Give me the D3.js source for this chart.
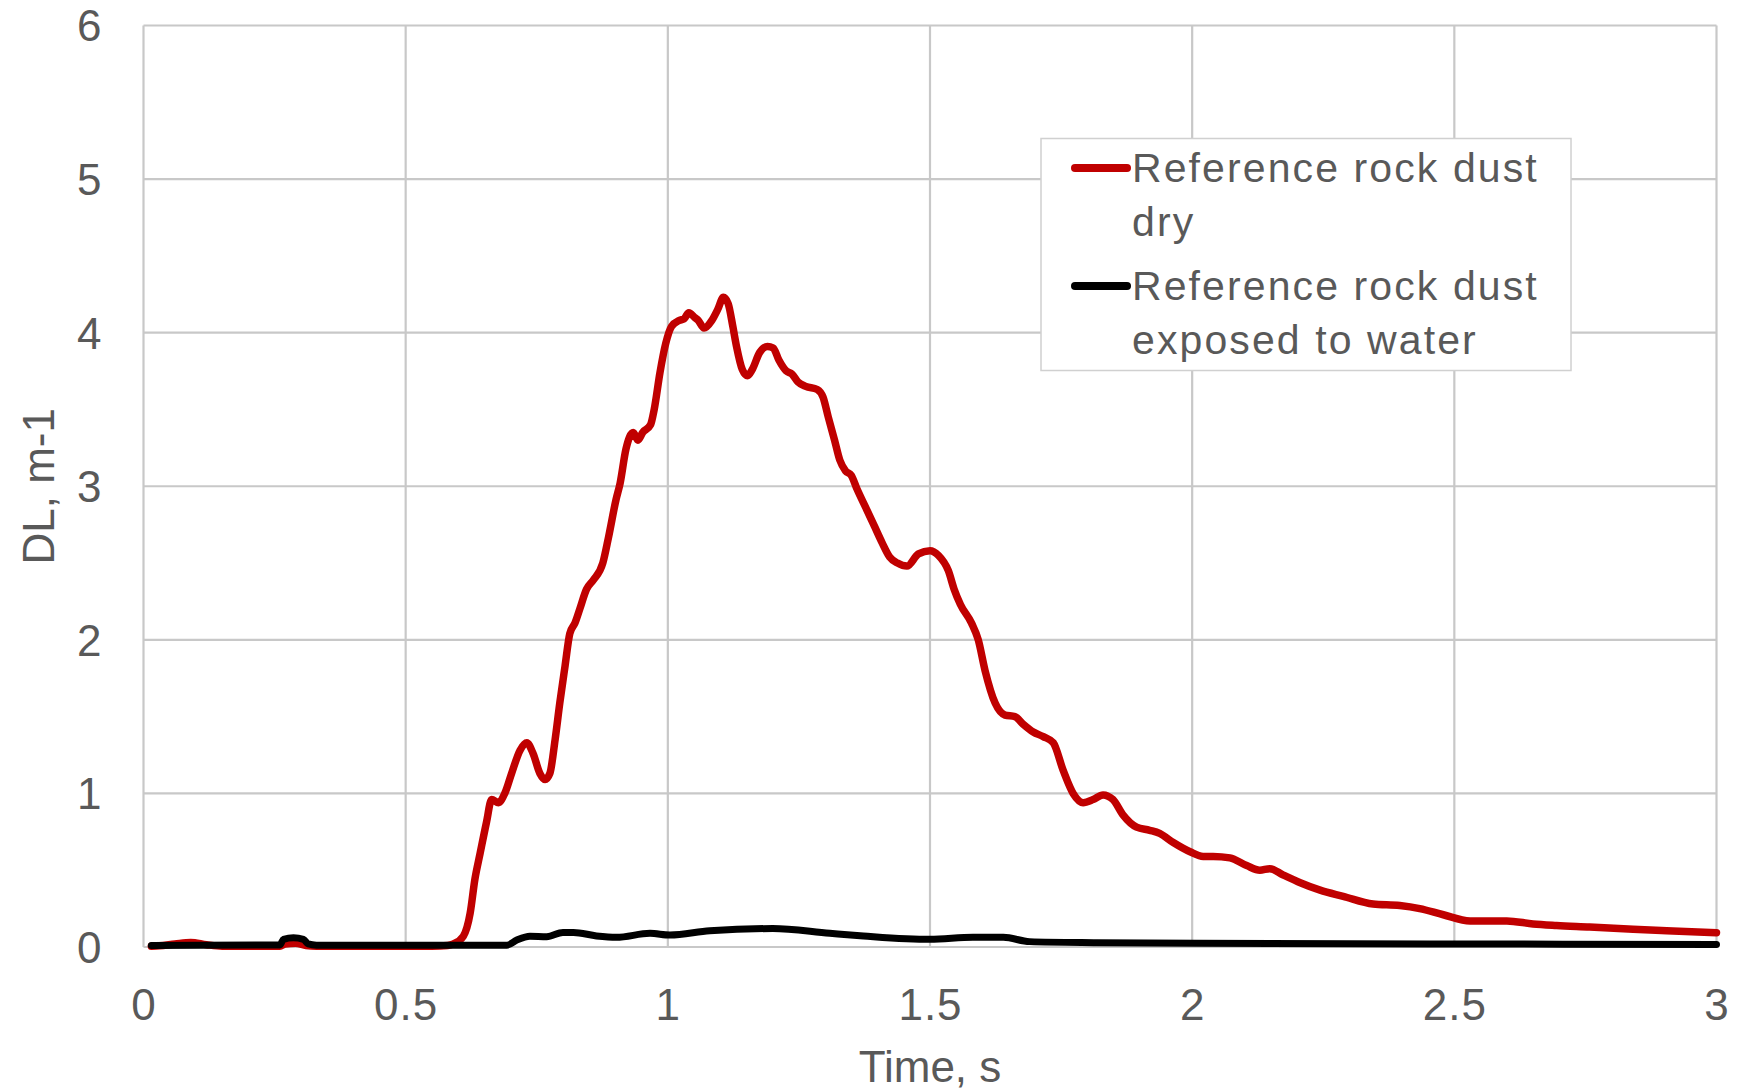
<!DOCTYPE html>
<html>
<head>
<meta charset="utf-8">
<script src="https://cdn.jsdelivr.net/npm/d3@7"></script>
<style>
  html, body { margin: 0; padding: 0; background: #ffffff; }
  svg { display: block; }
  text { font-family: "Liberation Sans", Arial, sans-serif; fill: #595959; }
</style>
</head>
<body>
<svg id="chart" width="1737" height="1090"></svg>
<script>
// ---- data ----
const seriesNames = ["Reference rock dust dry", "Reference rock dust exposed to water"];
const seriesColors = ["#c00000", "#000000"];

const dryTime = [0.015,0.03,0.06,0.09,0.12,0.15,0.26,0.27,0.29,0.31,0.33,0.55,0.58,0.591,0.61,0.623,0.632,0.642,0.654,0.664,0.677,0.689,0.702,0.718,0.731,0.743,0.756,0.766,0.775,0.785,0.794,0.804,0.813,0.823,0.832,0.845,0.858,0.876,0.887,0.901,0.909,0.920,0.934,0.943,0.952,0.967,0.974,0.985,0.996,1.007,1.022,1.031,1.040,1.051,1.058,1.069,1.084,1.095,1.106,1.115,1.124,1.131,1.142,1.152,1.161,1.175,1.190,1.201,1.212,1.226,1.237,1.248,1.263,1.285,1.296,1.306,1.318,1.328,1.339,1.350,1.361,1.379,1.394,1.409,1.423,1.438,1.456,1.478,1.500,1.516,1.535,1.546,1.558,1.579,1.592,1.605,1.624,1.643,1.662,1.678,1.697,1.716,1.735,1.754,1.773,1.792,1.811,1.830,1.849,1.868,1.894,1.919,1.938,1.964,1.996,2.021,2.040,2.072,2.104,2.129,2.148,2.173,2.205,2.244,2.288,2.345,2.396,2.434,2.479,2.53,2.60,2.65,2.695,2.758,2.841,2.905,3.0];
const dryDL = [0.005,0.008,0.02,0.03,0.015,0.005,0.005,0.02,0.025,0.01,0.005,0.005,0.01,0.02,0.07,0.22,0.44,0.61,0.81,0.96,0.94,1.00,1.13,1.28,1.33,1.26,1.13,1.09,1.13,1.35,1.59,1.83,2.04,2.11,2.20,2.33,2.39,2.50,2.67,2.91,3.02,3.24,3.35,3.30,3.35,3.40,3.50,3.74,3.93,4.04,4.08,4.09,4.13,4.10,4.08,4.03,4.08,4.15,4.23,4.19,4.04,3.91,3.76,3.72,3.76,3.87,3.91,3.90,3.82,3.75,3.73,3.68,3.65,3.63,3.58,3.45,3.30,3.17,3.10,3.07,2.98,2.85,2.74,2.63,2.54,2.50,2.48,2.56,2.58,2.55,2.45,2.33,2.23,2.11,2.00,1.80,1.59,1.51,1.50,1.45,1.40,1.37,1.33,1.15,1.00,0.94,0.96,0.99,0.96,0.86,0.78,0.76,0.74,0.68,0.62,0.59,0.59,0.58,0.53,0.50,0.51,0.47,0.42,0.37,0.33,0.28,0.27,0.25,0.21,0.17,0.17,0.15,0.14,0.13,0.115,0.106,0.093];

const wetTime = [0.015,0.26,0.267,0.286,0.305,0.314,0.33,0.693,0.712,0.737,0.769,0.80,0.82,0.864,0.902,0.966,1.004,1.08,1.20,1.309,1.373,1.50,1.582,1.64,1.69,1.818,2.008,2.453,3.0];
const wetDL = [0.01,0.013,0.05,0.06,0.05,0.02,0.012,0.012,0.045,0.07,0.067,0.095,0.095,0.072,0.063,0.089,0.078,0.106,0.12,0.089,0.072,0.05,0.063,0.063,0.035,0.028,0.024,0.02,0.017];

const xTicks = [0, 0.5, 1, 1.5, 2, 2.5, 3];
const yTicks = [0, 1, 2, 3, 4, 5, 6];
const xTitle = "Time, s";
const yTitle = "DL, m-1";
const legendLines = [["Reference rock dust", "dry"], ["Reference rock dust", "exposed to water"]];

// ---- layout ----
const svg = d3.select("#chart");
const plot = { left: 143.5, right: 1716.5, top: 25.5, bottom: 947 };

const x = d3.scaleLinear().domain([0, 3]).range([plot.left, plot.right]);
const y = d3.scaleLinear().domain([0, 6]).range([plot.bottom, plot.top]);

// gridlines
const grid = svg.append("g");
grid.selectAll("line.h").data(yTicks).join("line")
  .attr("x1", plot.left).attr("x2", plot.right)
  .attr("y1", d => y(d)).attr("y2", d => y(d))
  .attr("stroke", "#c8c8c8").attr("stroke-width", 2.2);
grid.selectAll("line.v").data(xTicks).join("line")
  .attr("x1", d => x(d)).attr("x2", d => x(d))
  .attr("y1", plot.top).attr("y2", plot.bottom)
  .attr("stroke", "#c8c8c8").attr("stroke-width", 2.2);

// axes (labels only, via d3 axis)
const xAxis = d3.axisBottom(x).tickValues(xTicks).tickSize(0).tickPadding(0).tickFormat(d3.format("~g"));
const gx = svg.append("g").attr("transform", `translate(0,${plot.bottom})`).call(xAxis);
gx.select(".domain").remove();
gx.selectAll("text").attr("y", 58).attr("dy", "0.35em")
  .style("font-size", "44px").style("letter-spacing", "1px").attr("fill", "#595959");

const yAxis = d3.axisLeft(y).tickValues(yTicks).tickSize(0).tickPadding(0).tickFormat(d3.format("~g"));
const gy = svg.append("g").attr("transform", `translate(${plot.left},0)`).call(yAxis);
gy.select(".domain").remove();
gy.selectAll("text").attr("x", -42).attr("dy", "0.35em")
  .style("font-size", "44px").attr("fill", "#595959");

// axis titles
svg.append("text").attr("x", (plot.left + plot.right) / 2).attr("y", 1067).attr("dy", "0.35em")
  .attr("text-anchor", "middle").style("font-size", "44px").text(xTitle);
svg.append("text").attr("transform", `translate(39,${(plot.top + plot.bottom) / 2}) rotate(-90)`)
  .attr("dy", "0.35em").attr("text-anchor", "middle").style("font-size", "44px").text(yTitle);

// lines
const line = d3.line().x(d => x(d[0])).y(d => y(d[1])).curve(d3.curveMonotoneX);
const dry = dryTime.map((t, i) => [t, dryDL[i]]);
const wet = wetTime.map((t, i) => [t, wetDL[i]]);

svg.append("path").datum(dry).attr("d", line)
  .attr("fill", "none").attr("stroke", seriesColors[0]).attr("stroke-width", 7.5)
  .attr("stroke-linejoin", "round").attr("stroke-linecap", "round");
svg.append("path").datum(wet).attr("d", line)
  .attr("fill", "none").attr("stroke", seriesColors[1]).attr("stroke-width", 7)
  .attr("stroke-linejoin", "round").attr("stroke-linecap", "round");

// legend
const lg = svg.append("g");
lg.append("rect").attr("x", 1041).attr("y", 138.5).attr("width", 530).attr("height", 232)
  .attr("fill", "#ffffff").attr("stroke", "#d0d0d0").attr("stroke-width", 1.5);
const entryY = [168, 286];
legendLines.forEach((lines, i) => {
  lg.append("line").attr("x1", 1075).attr("x2", 1127)
    .attr("y1", entryY[i]).attr("y2", entryY[i])
    .attr("stroke", seriesColors[i]).attr("stroke-width", 8).attr("stroke-linecap", "round");
  lines.forEach((s, j) => {
    lg.append("text").attr("x", 1132).attr("y", entryY[i] + j * 54).attr("dy", "0.35em")
      .style("font-size", "41px").style("letter-spacing", "2.1px").text(s);
  });
});
</script>
</body>
</html>
